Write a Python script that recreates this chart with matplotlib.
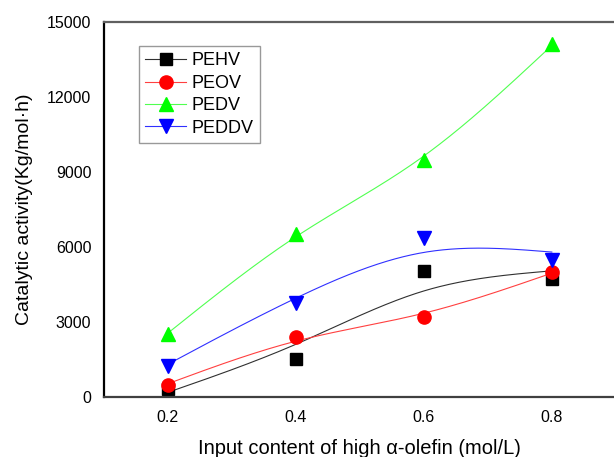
import numpy as np
import matplotlib
matplotlib.use("Agg")
import matplotlib.pyplot as plt

plt.rcParams['font.family'] = ['Liberation Sans', 'DejaVu Sans']

# data
x = [0.2, 0.4, 0.6, 0.8]
pehv = [320, 1520, 5040, 4720]
peov = [480, 2400, 3200, 5010]
pedv = [2520, 6540, 9500, 14120]
peddv = [1240, 3780, 6360, 5480]

labels = ["PEHV", "PEOV", "PEDV", "PEDDV"]
series = [pehv, peov, pedv, peddv]
# smoothing strength for each fitted curve
smooth = [1.2e-3, 4e-4, 2e-4, 1e-3]


def smooth_curve(xd, yd, lam, n=241):
    # penalised least squares (discrete smoothing spline)
    xg = np.linspace(min(xd), max(xd), n)
    h = xg[1] - xg[0]
    W = np.zeros((n, n))
    b = np.zeros(n)
    for xi, yi in zip(xd, yd):
        k = int(round((xi - xg[0]) / h))
        W[k, k] += 1.0
        b[k] += yi
    D = np.zeros((n - 2, n))
    for i in range(n - 2):
        D[i, i:i + 3] = [1, -2, 1]
    D = D / h ** 2
    A = W + lam * h * D.T @ D
    return xg, np.linalg.solve(A, b)


fig = plt.figure(figsize=(6.14, 4.57), dpi=100)
ax = fig.add_axes([0.169, 0.131, 0.834, 0.8206])

markers = ["s", "o", "^", "v"]
mcolors = ["black", "red", "#00ff00", "blue"]
lcolors = ["#303030", "#ff4040", "#50ff50", "#3030ff"]
msizes = [8, 9.5, 10, 10]

for ys, lab, lam, m, mc, lc, ms in zip(series, labels, smooth, markers, mcolors, lcolors, msizes):
    xg, yg = smooth_curve(x, ys, lam)
    ax.plot(xg, yg, color=lc, lw=0.8)
    ax.plot(x, ys, linestyle="none", marker=m, color=mc, ms=ms)
    ax.plot([], [], color=lc, lw=0.8, marker=m, mfc=mc, mec=mc, ms=ms, label=lab)

ax.set_xlim(0.1, 0.9)
ax.set_ylim(0, 15000)
ax.set_xticks([0.2, 0.4, 0.6, 0.8])
ax.set_yticks([0, 3000, 6000, 9000, 12000, 15000])
ax.tick_params(length=0, labelsize=11.5)
ax.tick_params(axis="y", pad=9)
ax.tick_params(axis="x", pad=9)

ax.spines["right"].set_visible(False)
ax.spines["left"].set_linewidth(1.6)
ax.spines["left"].set_color("black")
ax.spines["bottom"].set_linewidth(1.6)
ax.spines["bottom"].set_color("#404040")
ax.spines["top"].set_linewidth(1.6)
ax.spines["top"].set_color("#606060")

ax.set_xlabel("Input content of high α-olefin (mol/L)", fontsize=14.5, labelpad=10)
ax.set_ylabel("Catalytic activity(Kg/mol·h)", fontsize=14, labelpad=10)

handles, labs = ax.get_legend_handles_labels()
leg = ax.legend(handles, labs, loc="upper left", bbox_to_anchor=(0.068, 0.936),
                fontsize=13, frameon=True, fancybox=False, edgecolor="#808080",
                handlelength=2.3, numpoints=1, borderpad=0.35, labelspacing=0.3,
                handletextpad=0.3, borderaxespad=0)
leg.get_frame().set_linewidth(1.0)

fig.savefig("out.png", dpi=100)
